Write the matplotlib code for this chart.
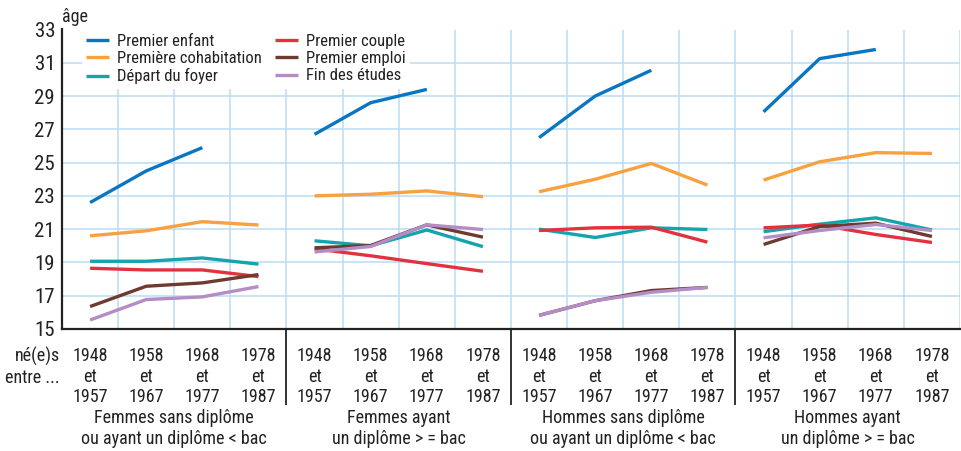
import numpy as np
import matplotlib
matplotlib.use("Agg")
import matplotlib.pyplot as plt

plt.rcParams['font.family'] = ['Roboto Condensed', 'Liberation Sans', 'DejaVu Sans']

# ---- data -------------------------------------------------------------
groups = ["Femmes sans diplôme\nou ayant un diplôme < bac",
          "Femmes ayant\nun diplôme > = bac",
          "Hommes sans diplôme\nou ayant un diplôme < bac",
          "Hommes ayant\nun diplôme > = bac"]
cohorts = ["1948\net\n1957", "1958\net\n1967", "1968\net\n1977", "1978\net\n1987"]

series_names = ["Premier enfant", "Première cohabitation", "Départ du foyer",
                "Premier couple", "Premier emploi", "Fin des études"]
series_colors = ["#0a76c1", "#f9a03f", "#14a4ad", "#e2323f", "#6f3a2f", "#b48cc6"]

nan = np.nan
premier_enfant = [[22.6, 24.5, 25.9, nan], [26.7, 28.6, 29.4, nan],
                  [26.5, 29.0, 30.55, nan], [28.05, 31.25, 31.8, nan]]
premiere_cohabitation = [[20.6, 20.9, 21.45, 21.25], [23.0, 23.1, 23.3, 22.95],
                         [23.25, 24.0, 24.95, 23.65], [23.95, 25.05, 25.6, 25.55]]
depart_foyer = [[19.07, 19.07, 19.27, 18.9], [20.3, 20.0, 20.95, 19.95],
                [21.0, 20.5, 21.08, 20.98], [20.85, 21.3, 21.68, 20.95]]
premier_couple = [[18.65, 18.55, 18.55, 18.15], [19.82, 19.4, 18.93, 18.47],
                  [20.92, 21.08, 21.12, 20.22], [21.08, 21.25, 20.68, 20.2]]
premier_emploi = [[16.35, 17.57, 17.77, 18.27], [19.88, 20.02, 21.26, 20.52],
                  [15.82, 16.7, 17.31, 17.5], [20.08, 21.16, 21.36, 20.56]]
fin_etudes = [[15.54, 16.77, 16.93, 17.55], [19.63, 19.96, 21.26, 20.98],
              [15.82, 16.7, 17.21, 17.5], [20.48, 20.92, 21.28, 20.92]]

series_values = [premier_enfant, premiere_cohabitation, depart_foyer,
                 premier_couple, premier_emploi, fin_etudes]
yticks = [15, 17, 19, 21, 23, 25, 27, 29, 31, 33]

# ---- figure -----------------------------------------------------------
W, H = 962, 451
fig = plt.figure(figsize=(W / 100, H / 100), dpi=100)
left, right, top, bottom = 62, 960, 29.5, 329
ax = fig.add_axes([left / W, 1 - bottom / H, (right - left) / W, (bottom - top) / H])

n_groups = len(groups)
n_coh = len(cohorts)
ax.set_xlim(0, n_groups * n_coh)
ax.set_ylim(15, 33)

grid_c = "#b9dcf2"
for y in yticks:
    ax.axhline(y, color=grid_c, lw=1.1, zorder=0)
for x in range(1, n_groups * n_coh + 1):
    ax.axvline(x, color=grid_c, lw=1.1, zorder=0)

handles = []
for name, col, vals in zip(series_names, series_colors, series_values):
    h = None
    for g in range(n_groups):
        xs = np.arange(n_coh) + g * n_coh + 0.5
        ys = np.array(vals[g], dtype=float)
        h, = ax.plot(xs, ys, color=col, lw=2.4, solid_capstyle='butt', zorder=3)
    h.set_label(name)
    handles.append(h)

for s in ["top", "right"]:
    ax.spines[s].set_visible(False)
ax.spines["left"].set_color("#222222")
ax.spines["left"].set_linewidth(1.6)
ax.spines["bottom"].set_color("#222222")
ax.spines["bottom"].set_linewidth(1.6)

ax.set_yticks(yticks)
ax.set_yticklabels([str(v) for v in yticks], fontsize=15)
ax.tick_params(axis='y', length=0, pad=5, colors="#222222")
ax.set_xticks([])

ax.text(0, 1.012, "âge", transform=ax.transAxes, fontsize=13, ha='left', va='bottom',
        color="#222222")

trans = ax.get_xaxis_transform()
ax_h = bottom - top
def yax(py):
    return (bottom - py) / ax_h

for g in range(n_groups):
    for c in range(n_coh):
        ax.text(g * n_coh + c + 0.5, yax(347), cohorts[c], transform=trans, ha='center',
                va='top', fontsize=13, linespacing=1.18, color="#222222")
    ax.text(g * n_coh + n_coh / 2, yax(409), groups[g], transform=trans, ha='center',
            va='top', fontsize=13, linespacing=1.18, color="#222222")
    if g > 0:
        ax.plot([g * n_coh, g * n_coh], [0, yax(404)], transform=trans, color="#333333",
                lw=1.4, clip_on=False, zorder=1)

fig.text(60 / W, 1 - 347 / H, "né(e)s\nentre ...", ha='right', va='top', fontsize=13,
         linespacing=1.18, color="#222222")

leg = ax.legend(handles=handles, ncol=2, loc='upper left',
                bbox_to_anchor=(0.022, 1.0), fontsize=12, frameon=True,
                facecolor='white', edgecolor='none', framealpha=1, fancybox=False,
                handlelength=1.4, handletextpad=0.45, columnspacing=0.8,
                labelspacing=0.14, borderpad=0.25, borderaxespad=0)
leg.get_frame().set_linewidth(0)
for t in leg.get_texts():
    t.set_color("#222222")
leg.set_zorder(5)

fig.savefig("out.png", dpi=100)
